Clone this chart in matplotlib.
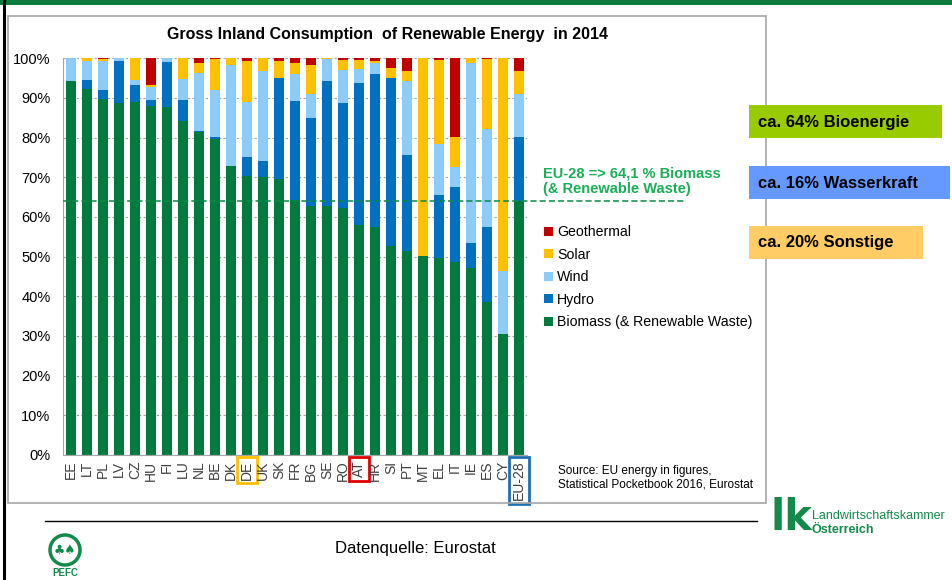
import matplotlib
matplotlib.use("Agg")
import matplotlib.pyplot as plt
from matplotlib.patches import Rectangle, Ellipse
from matplotlib.lines import Line2D
import numpy as np

plt.rcParams["font.family"] = ["Liberation Sans", "DejaVu Sans"]

countries = ["EE", "LT", "PL", "LV", "CZ", "HU", "FI", "LU", "NL", "BE",
             "DK", "DE", "UK", "SK", "FR", "BG", "SE", "RO", "AT", "HR",
             "SI", "PT", "MT", "EL", "IT", "IE", "ES", "CY", "EU-28"]
biomass = [94.2, 92.2, 89.8, 88.8, 88.9, 88.1, 87.7, 84.2, 81.4, 79.7,
           72.9, 70.4, 70.0, 69.7, 64.2, 62.7, 62.7, 62.2, 57.9, 57.6,
           52.6, 51.5, 50.2, 49.7, 48.7, 47.2, 38.6, 30.5, 64.1]
hydro = [0.0, 2.4, 2.3, 10.5, 4.4, 1.5, 11.3, 5.2, 0.2, 0.5,
         0.0, 4.8, 4.0, 25.3, 25.0, 22.3, 31.6, 26.5, 35.8, 38.5,
         42.4, 24.1, 0.0, 15.9, 18.9, 6.3, 18.9, 0.0, 16.1]
wind = [5.8, 4.6, 7.2, 0.7, 1.2, 3.2, 1.0, 5.4, 14.7, 11.7,
        25.3, 13.8, 22.7, 0.0, 6.8, 6.1, 5.4, 8.4, 3.5, 2.6,
        0.0, 18.6, 0.0, 12.7, 4.9, 45.4, 24.8, 15.9, 10.75]
solar = [0.0, 0.8, 0.4, 0.0, 5.5, 0.5, 0.0, 5.2, 2.5, 7.85,
         1.8, 10.4, 3.3, 4.3, 2.9, 7.2, 0.3, 2.5, 2.4, 0.6,
         2.5, 2.5, 49.8, 21.3, 7.75, 1.1, 17.5, 53.6, 5.8]
geothermal = [0.0, 0.0, 0.3, 0.0, 0.0, 6.7, 0.0, 0.0, 1.2, 0.25,
              0.0, 0.6, 0.0, 0.7, 1.1, 1.7, 0.0, 0.4, 0.4, 0.7,
              2.5, 3.3, 0.0, 0.4, 19.75, 0.0, 0.2, 0.0, 3.2]

series_names = ["Biomass (& Renewable Waste)", "Hydro", "Wind", "Solar", "Geothermal"]
series_colors = ["#007A3D", "#0070C0", "#8DCBFA", "#FFC000", "#C00000"]
eu_biomass = 64.1
highlight = {"DE": "#FFC000", "AT": "#E00000", "EU-28": "#1F6FB5"}
summary = [("ca. 64% Bioenergie", "#99CC00"),
           ("ca. 16% Wasserkraft", "#6699FF"),
           ("ca. 20% Sonstige", "#FFCC66")]

W, H = 952, 580


def fx(px):
    return px / W


def fy(py):
    return 1 - py / H


fig = plt.figure(figsize=(W / 100, H / 100), dpi=100)

# slide frame
fig.add_artist(Rectangle((0, fy(4.5)), 1, 4.5 / H, transform=fig.transFigure,
                         color="#0B7A3B", lw=0))
fig.add_artist(Line2D([fx(4), fx(4)], [0, 1], transform=fig.transFigure,
                      color="black", lw=2.2))
fig.add_artist(Rectangle((fx(8), fy(503)), fx(766) - fx(8), (503 - 16) / H,
                         transform=fig.transFigure, fill=False,
                         edgecolor="#A6A6A6", lw=1.2))

ax = fig.add_axes([fx(63), fy(455), fx(527) - fx(63), (455 - 58.3) / H])
x = np.arange(len(countries))
bottom = np.zeros(len(countries))
handles = []
for vals, name, col in zip([biomass, hydro, wind, solar, geothermal],
                           series_names, series_colors):
    b = ax.bar(x, vals, width=0.625, bottom=bottom, color=col, label=name,
               zorder=2)
    handles.append(b)
    bottom += np.array(vals)

ax.set_xlim(-0.5, len(countries) - 0.5)
ax.set_ylim(0, 100)
ax.set_yticks(np.arange(0, 101, 10))
ax.set_yticklabels([f"{v}%" for v in range(0, 101, 10)], fontsize=10.5)
ax.set_xticks(x)
ax.set_xticklabels(countries, rotation=90, fontsize=10, color="#404040")
ax.tick_params(axis="both", length=0)
ax.tick_params(axis="x", pad=4)
ax.tick_params(axis="y", pad=9)
ax.grid(axis="y", color="#A0A0A0", ls=(0, (2, 2)), lw=0.8, zorder=0)
for s in ["top", "right"]:
    ax.spines[s].set_visible(False)
ax.spines["left"].set_color("#A6A6A6")
ax.spines["bottom"].set_color("#A6A6A6")

for lab in ax.get_xticklabels():
    c = highlight.get(lab.get_text())
    if c:
        lab.set_bbox(dict(facecolor="none", edgecolor=c, lw=2,
                          boxstyle="square,pad=0.25"))

# EU-28 biomass line
ax.plot([0, (685 - 63) / (527 - 63)], [eu_biomass, eu_biomass],
        transform=ax.get_yaxis_transform(), clip_on=False,
        color="#0A8A45", ls=(0, (4, 2)), lw=1.1, zorder=3)
fig.text(fx(543), fy(181), "EU-28 => 64,1 % Biomass\n(& Renewable Waste)",
         color="#1AAE55", fontsize=10.5, fontweight="bold", va="center",
         linespacing=1.15)

ax.set_title("Gross Inland Consumption  of Renewable Energy  in 2014",
             fontsize=11.5, fontweight="bold", pad=14, x=0.7)

fig.legend(handles[::-1], series_names[::-1], loc="upper left",
           bbox_to_anchor=(fx(537), fy(218)), frameon=False, fontsize=10.2,
           handlelength=0.6, handleheight=0.6, handletextpad=0.3,
           labelspacing=0.6, borderpad=0)

fig.text(fx(558), fy(478), "Source: EU energy in figures,\nStatistical Pocketbook 2016, Eurostat",
         fontsize=8.5, va="center", linespacing=1.2)

# summary boxes
tops = [105, 166, 226]
widths = [193, 201, 174]
for (txt, col), t, w in zip(summary, tops, widths):
    fig.add_artist(Rectangle((fx(749), fy(t + 33)), w / W, 33 / H,
                             transform=fig.transFigure, color=col, lw=0,
                             zorder=5))
    fig.text(fx(758), fy(t + 17), txt, fontsize=12, fontweight="bold",
             va="center", zorder=6)

# footer
fig.add_artist(Line2D([fx(45), fx(757)], [fy(521), fy(521)],
                      transform=fig.transFigure, color="black", lw=1))
fig.text(fx(415), fy(548), "Datenquelle: Eurostat", fontsize=12,
         ha="center", va="center")

# PEFC logo approximation
fig.add_artist(Ellipse((fx(65), fy(550)), 30 / W, 30 / H,
                       transform=fig.transFigure, fill=False,
                       edgecolor="#138A4A", lw=2.5))
fig.text(fx(65), fy(550), "\u2663\u2660", fontsize=9, color="#138A4A",
         ha="center", va="center", family=["DejaVu Sans"])
fig.text(fx(65), fy(573), "PEFC", fontsize=7, fontweight="bold",
         color="#138A4A", ha="center", va="center")

# Landwirtschaftskammer logo approximation
fig.text(fx(770), fy(518), "lk", fontsize=30, fontweight="bold",
         color="#138A4A", va="center", family=["DejaVu Sans"])
fig.text(fx(812), fy(516), "Landwirtschaftskammer", fontsize=9,
         color="#138A4A", va="center")
fig.text(fx(812), fy(530), "\u00d6sterreich", fontsize=9, fontweight="bold",
         color="#138A4A", va="center")

fig.savefig("out.png", dpi=100)
